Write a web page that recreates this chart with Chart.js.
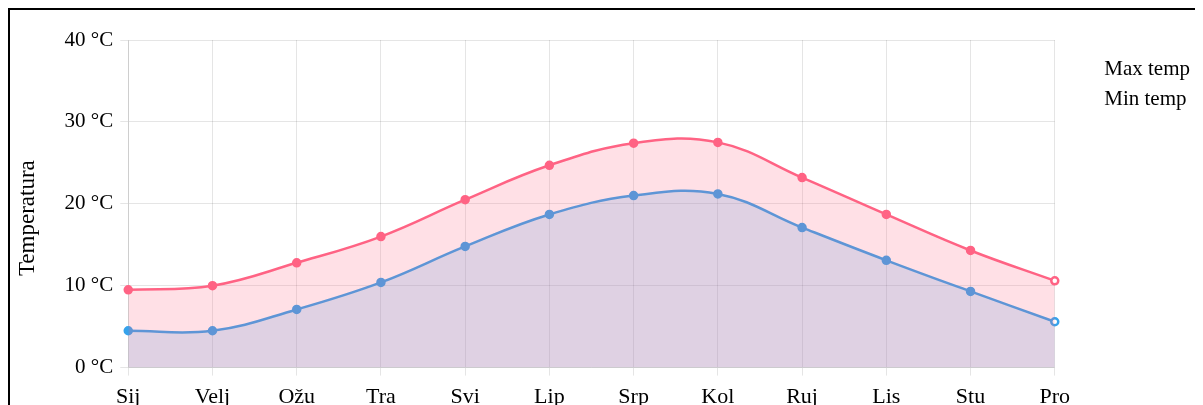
<!DOCTYPE html>
<html>
<head>
<meta charset="utf-8">
<script src="https://cdn.jsdelivr.net/npm/chart.js@4"></script>
<style>
  html, body { margin: 0; padding: 0; background: #fff; }
  body { margin: 8px; }
  #wrap { position: relative; width: 1210px; height: 428px; border: 2px solid #000; }
</style>
</head>
<body>
<div id="wrap"><canvas id="c"></canvas></div>
<script>
const months = ['Sij', 'Velj', 'Ožu', 'Tra', 'Svi', 'Lip', 'Srp', 'Kol', 'Ruj', 'Lis', 'Stu', 'Pro'];
const maxTemp = [9.5, 10.0, 12.8, 16.0, 20.5, 24.7, 27.4, 27.5, 23.2, 18.7, 14.3, 10.6];
const minTemp = [4.5, 4.5, 7.1, 10.4, 14.8, 18.7, 21.0, 21.2, 17.1, 13.1, 9.3, 5.6];
const seriesNames = ['Max temp', 'Min temp'];
const yTicks = [0, 10, 20, 30, 40];
const yTitle = 'Temperatura';
const unit = ' °C';

Chart.defaults.font.family = "'Liberation Serif', 'Times New Roman', serif";
Chart.defaults.color = '#000';

const red = 'rgb(255, 99, 132)';
const blue = 'rgb(54, 162, 235)';
const lastWhite = (c) => months.map((m, i) => i === months.length - 1 ? '#fff' : c);

new Chart(document.getElementById('c'), {
  type: 'line',
  data: {
    labels: months,
    datasets: [
      {
        label: seriesNames[0],
        data: maxTemp,
        borderColor: red,
        backgroundColor: 'rgba(255, 99, 132, 0.2)',
        pointBackgroundColor: lastWhite(red),
        pointBorderColor: red,
        fill: 'origin',
        tension: 0.4,
        borderWidth: 2.5,
        pointRadius: 3.5
      },
      {
        label: seriesNames[1],
        data: minTemp,
        borderColor: blue,
        backgroundColor: 'rgba(54, 162, 235, 0.2)',
        pointBackgroundColor: lastWhite(blue),
        pointBorderColor: blue,
        fill: 'origin',
        tension: 0.4,
        borderWidth: 2.5,
        pointRadius: 3.5
      }
    ]
  },
  options: {
    responsive: true,
    maintainAspectRatio: false,
    animation: false,
    layout: { padding: { top: 30, right: 20, bottom: 20, left: 0 } },
    plugins: {
      tooltip: { enabled: false },
      legend: {
        position: 'right',
        align: 'start',
        title: { display: true, text: ' ', padding: 0, font: { size: 8 } },
        labels: {
          boxWidth: 30,
          font: { size: 21 },
          padding: 9,
          generateLabels(chart) {
            return Chart.defaults.plugins.legend.labels.generateLabels(chart).map(l => Object.assign(l, {
              fillStyle: 'rgba(0,0,0,0)', strokeStyle: 'rgba(0,0,0,0)', lineWidth: 0
            }));
          }
        }
      }
    },
    scales: {
      x: {
        ticks: { font: { size: 22 }, padding: 8 },
        grid: { color: 'rgba(0,0,0,0.1)' }
      },
      y: {
        min: yTicks[0],
        max: yTicks[yTicks.length - 1],
        ticks: {
          stepSize: 10,
          padding: 7,
          font: { size: 21 },
          callback: (v) => v + unit
        },
        title: {
          display: true,
          text: yTitle + '\u00a0\u00a0\u00a0\u00a0\u00a0',
          font: { size: 23 },
          padding: { top: 4, bottom: 16 }
        },
        grid: { color: 'rgba(0,0,0,0.1)' }
      }
    }
  }
});
</script>
</body>
</html>
